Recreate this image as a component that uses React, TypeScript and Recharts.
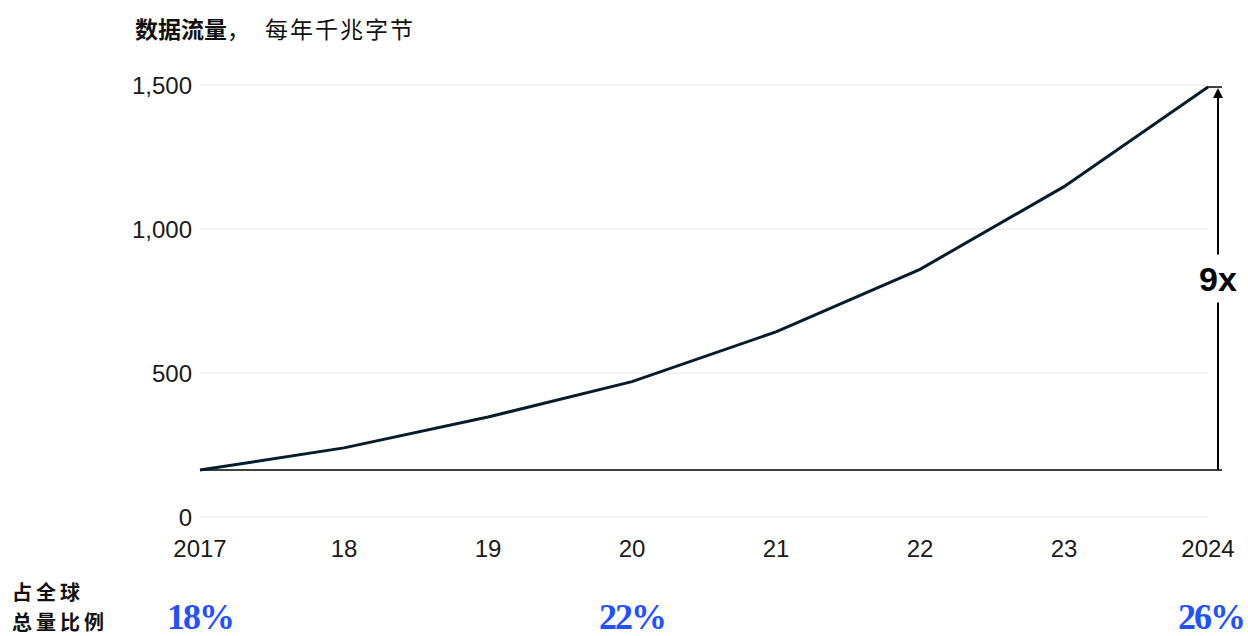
import React from "react";
import {
  LineChart,
  Line,
  XAxis,
  YAxis,
  CartesianGrid,
  ReferenceLine,
} from "recharts";

const years = ["2017", "2018", "2019", "2020", "2021", "2022", "2023", "2024"];
const yearLabels = ["2017", "18", "19", "20", "21", "22", "23", "2024"];
const traffic = [163, 240, 347, 470, 643, 860, 1147, 1493];
const globalShare: (string | null)[] = ["18%", null, null, "22%", null, null, null, "26%"];
const yTicks = [0, 500, 1000, 1500];
const multipleLabel = "9x";
const titleBold = "数据流量";
const titleRest = "每年千兆字节";
const shareLabelLines = ["占全球", "总量比例"];

const data = years.map((y, i) => ({
  year: y,
  value: traffic[i],
  label: yearLabels[i],
  share: globalShare[i],
}));

const SANS = "'Liberation Sans', Arial, sans-serif";
const SERIF = "'Liberation Serif', 'Times New Roman', serif";
const CJK = "'Noto Sans CJK SC', sans-serif";
const INK = "#051c2c";
const BLUE = "#2251ff";

const YearTick = (props: any) => {
  const { x, y, index } = props;
  return (
    <text
      x={x}
      y={y + 40}
      textAnchor="middle"
      fontFamily={SANS}
      fontSize={24}
      fill="#1a1a1a"
    >
      {yearLabels[index]}
    </text>
  );
};

const ShareTick = (props: any) => {
  const { x, y, index } = props;
  const s = globalShare[index];
  if (!s) return null;
  const last = index === globalShare.length - 1;
  return (
    <text
      x={last ? x + 3 : x}
      y={y + 67}
      textAnchor="middle"
      fontFamily={SERIF}
      fontWeight={700}
      fontSize={36}
      letterSpacing={-2}
      fill={BLUE}
    >
      {s}
    </text>
  );
};

const BaselineShape = (props: any) => {
  const { x1, y1, x2 } = props;
  return (
    <line x1={x1} x2={x2 + 14} y1={y1} y2={y1} stroke="#000" strokeWidth={1.5} />
  );
};

const ArrowShape = (props: any) => {
  const { x1, y1, y2 } = props;
  const x = x1 + 10;
  const yBottom = Math.max(y1, y2);
  const yTop = Math.min(y1, y2);
  const mid = (yTop + yBottom) / 2;
  const gap = 24;
  return (
    <g>
      <line x1={x} x2={x} y1={yBottom} y2={mid + gap} stroke="#000" strokeWidth={2} />
      <line x1={x} x2={x} y1={mid - gap} y2={yTop + 9} stroke="#000" strokeWidth={2} />
      <path
        d={`M${x - 5},${yTop + 11} L${x},${yTop + 1} L${x + 5},${yTop + 11} Z`}
        fill="#000"
      />
      <line x1={x - 11} x2={x + 4} y1={yTop} y2={yTop} stroke="#000" strokeWidth={1.5} />
      <text
        x={x}
        y={mid + 12}
        textAnchor="middle"
        fontFamily={SANS}
        fontWeight={700}
        fontSize={34}
        fill="#000"
      >
        {multipleLabel}
      </text>
    </g>
  );
};

export default function App() {
  return (
    <div
      style={{
        position: "absolute",
        left: 0,
        top: 0,
        width: 1248,
        height: 636,
        background: "#fff",
        overflow: "hidden",
      }}
    >
      <LineChart
        width={1248}
        height={636}
        data={data}
        margin={{ top: 85, right: 40, bottom: 0, left: 0 }}
      >
        <CartesianGrid vertical={false} stroke="#e6e6e6" strokeWidth={1} />
        <YAxis
          width={200}
          domain={[0, 1500]}
          ticks={yTicks}
          axisLine={false}
          tickLine={false}
          tickMargin={2}
          tickFormatter={(v: number) => v.toLocaleString("en-US")}
          tick={{ fontFamily: SANS, fontSize: 24, fill: "#1a1a1a" }}
        />
        <XAxis
          xAxisId={0}
          dataKey="year"
          height={45}
          axisLine={false}
          tickLine={false}
          tickSize={0}
          tickMargin={0}
          interval={0}
          tick={<YearTick />}
        />
        <XAxis
          xAxisId="share"
          dataKey="year"
          height={74}
          axisLine={false}
          tickLine={false}
          tickSize={0}
          tickMargin={0}
          interval={0}
          tick={<ShareTick />}
        />
        <ReferenceLine
          y={traffic[0]}
          ifOverflow="visible"
          shape={(p: any) => <BaselineShape {...p} />}
        />
        <ReferenceLine
          segment={[
            { x: years[years.length - 1], y: traffic[0] },
            { x: years[years.length - 1], y: traffic[traffic.length - 1] },
          ]}
          ifOverflow="visible"
          shape={(p: any) => <ArrowShape {...p} />}
        />
        <Line
          type="linear"
          dataKey="value"
          stroke={INK}
          strokeWidth={3}
          dot={false}
          activeDot={false}
          isAnimationActive={false}
        />
      </LineChart>
      <svg
        width={1248}
        height={636}
        style={{ position: "absolute", left: 0, top: 0, pointerEvents: "none" }}
      >
        <text x={135} y={38} fontFamily={CJK} fontSize={23} fill="#111">
          <tspan fontWeight={700} letterSpacing={0}>
            {titleBold}
          </tspan>
          <tspan letterSpacing={15}>，</tspan>
          <tspan letterSpacing={2}>{titleRest}</tspan>
        </text>
        <text x={12} y={600} fontFamily={CJK} fontWeight={700} fontSize={20} letterSpacing={4} fill="#111">
          {shareLabelLines[0]}
        </text>
        <text x={12} y={630} fontFamily={CJK} fontWeight={700} fontSize={20} letterSpacing={4} fill="#111">
          {shareLabelLines[1]}
        </text>
      </svg>
    </div>
  );
}
